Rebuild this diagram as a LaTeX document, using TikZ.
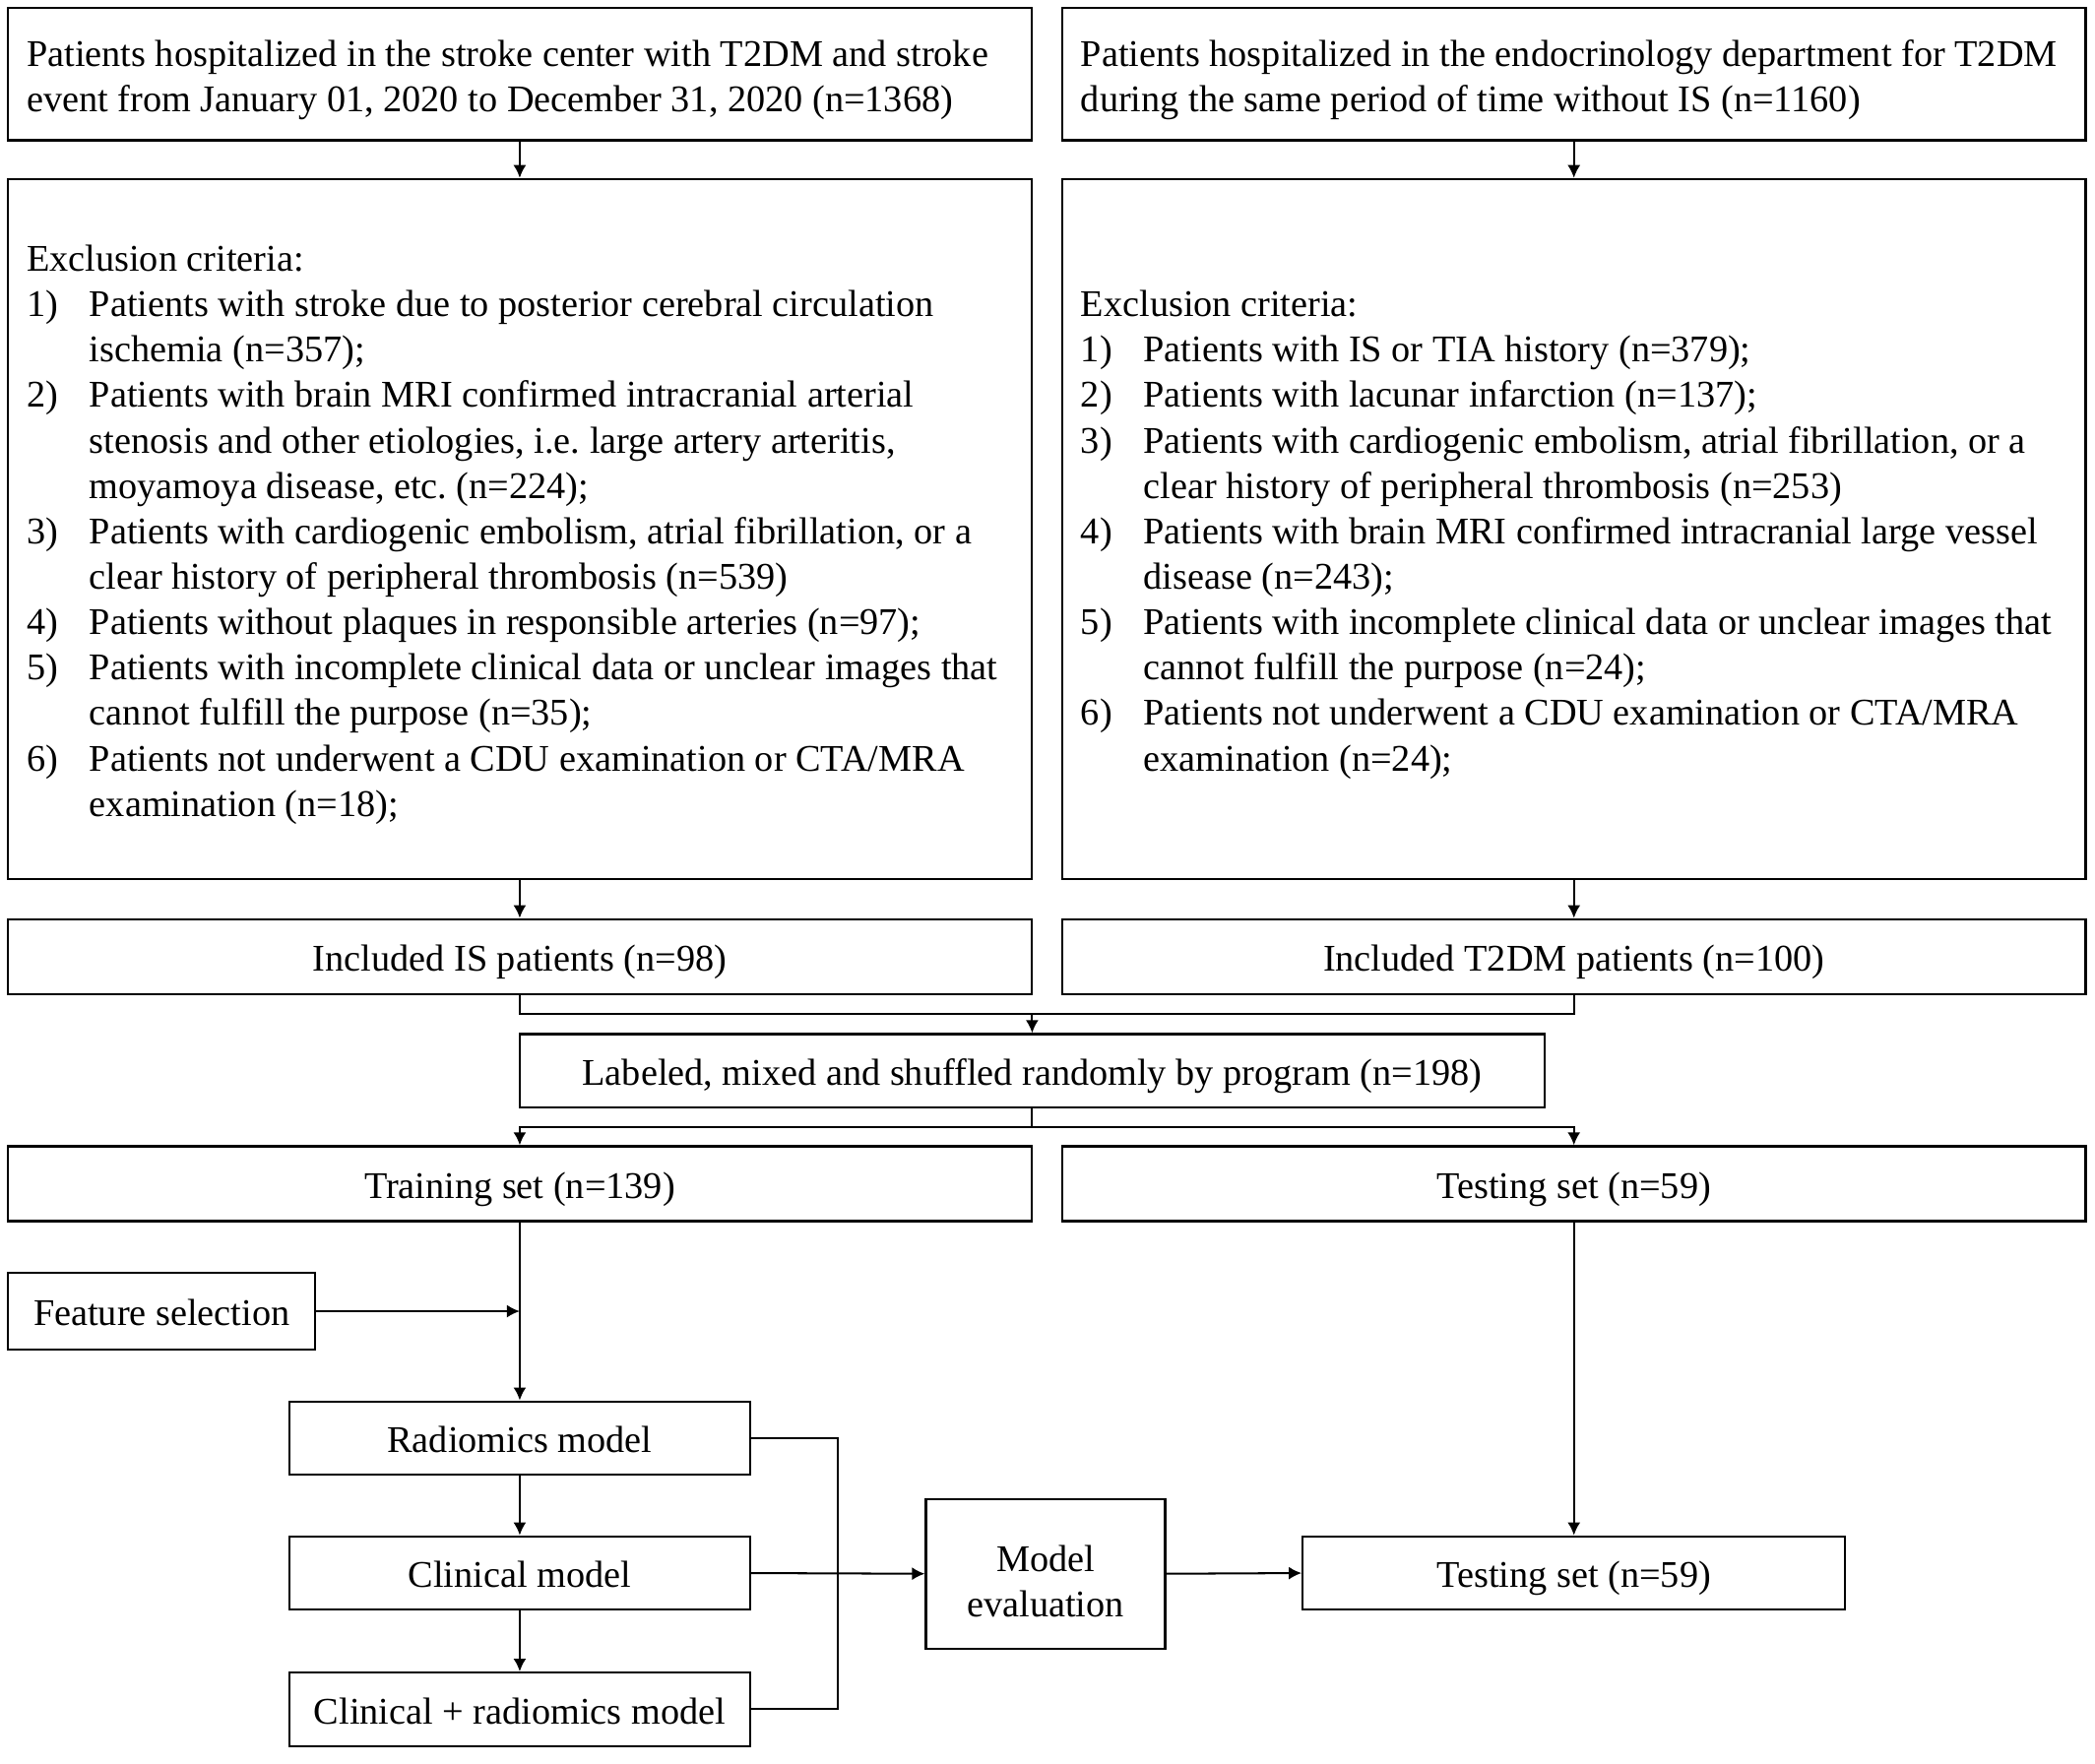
\documentclass[tikz,border=0pt]{standalone}
\usepackage{fontspec}
\setmainfont{Liberation Serif}
\usetikzlibrary{arrows.meta}
\newcommand{\itm}[1]{\par\hangindent=23.5pt\hangafter=1\noindent\makebox[23.5pt][l]{#1}}
\newcommand{\rsp}{\spaceskip=0pt\xspaceskip=0pt\frenchspacing\noindent}
\begin{document}
\begin{tikzpicture}[x=0.5pt,y=-0.5pt,
  every node/.style={font=\fontsize{14.1pt}{17pt}\selectfont},
  box/.style={draw,line width=0.8pt,inner ysep=0pt,inner xsep=7pt,align=center,
              text height=11.5pt,text depth=0.5pt},
  txtbox/.style={box,text width=369pt,align=left},
  wide/.style={box,minimum width=383pt,minimum height=28pt},
  line/.style={line width=0.75pt},
  arr/.style={line,-{Latex[length=4.8pt,width=4.8pt]}}]
\useasboundingbox (0,0) rectangle (1568,1320.4);

\node[txtbox,minimum height=49.5pt,text depth=17.5pt] (top1) at (389,55.5)
  {\rsp Patients hospitalized in the stroke center with T2DM and stroke\newline
   event from January 01, 2020 to December 31, 2020 (n=1368)};
\node[txtbox,minimum height=49.5pt,text depth=17.5pt] (top2) at (1178,55.5)
  {\rsp Patients hospitalized in the endocrinology department for T2DM\newline
   during the same period of time without IS (n=1160)};

\node[txtbox,minimum height=262pt,text depth=204.5pt] (excl1) at (389,396)
  {\rsp Exclusion criteria:
   \itm{1)}Patients with stroke due to posterior cerebral circulation\newline ischemia (n=357);
   \itm{2)}Patients with brain MRI confirmed intracranial arterial\newline stenosis and other etiologies, i.e. large artery arteritis,\newline moyamoya disease, etc. (n=224);
   \itm{3)}Patients with cardiogenic embolism, atrial fibrillation, or a\newline clear history of peripheral thrombosis (n=539)
   \itm{4)}Patients without plaques in responsible arteries (n=97);
   \itm{5)}Patients with incomplete clinical data or unclear images that\newline cannot fulfill the purpose (n=35);
   \itm{6)}Patients not underwent a CDU examination or CTA/MRA\newline examination (n=18);\par};
\node[txtbox,minimum height=262pt,text depth=170.5pt] (excl2) at (1178,396)
  {\rsp Exclusion criteria:
   \itm{1)}Patients with IS or TIA history (n=379);
   \itm{2)}Patients with lacunar infarction (n=137);
   \itm{3)}Patients with cardiogenic embolism, atrial fibrillation, or a\newline clear history of peripheral thrombosis (n=253)
   \itm{4)}Patients with brain MRI confirmed intracranial large vessel\newline disease (n=243);
   \itm{5)}Patients with incomplete clinical data or unclear images that\newline cannot fulfill the purpose (n=24);
   \itm{6)}Patients not underwent a CDU examination or CTA/MRA\newline examination (n=24);\par};

\node[wide] (inc1) at (389,716) {Included IS patients (n=98)};
\node[wide] (inc2) at (1178,716) {Included T2DM patients (n=100)};
\node[box,minimum width=383.5pt,minimum height=27.5pt] (lab) at (772.5,801.5)
  {Labeled, mixed and shuffled randomly by program (n=198)};
\node[wide] (train) at (389,886) {Training set (n=139)};
\node[wide] (test1) at (1178,886) {Testing set (n=59)};

\node[box,minimum width=115pt,minimum height=28.5pt] (feat) at (121,981.5) {Feature selection};
\node[box,minimum width=172.5pt,minimum height=27.5pt] (rad) at (389,1076.5) {Radiomics model};
\node[box,minimum width=172.5pt,minimum height=27.5pt] (clin) at (389,1177.5) {Clinical model};
\node[box,minimum width=172.5pt,minimum height=27.5pt] (comb) at (389,1279.5) {Clinical + radiomics model};
\node[box,minimum width=89.5pt,minimum height=56pt,text height=40pt,text depth=8pt] (eval) at (782.5,1178) {Model\\evaluation};
\node[box,minimum width=203pt,minimum height=27.5pt] (test2) at (1178,1177.5) {Testing set (n=59)};

\coordinate (m1) at (772.5,759);
\coordinate (m2) at (772.5,844);
\coordinate (br) at (627,1178);

\draw[arr] (top1.south) -- (excl1.north);
\draw[arr] (top2.south) -- (excl2.north);
\draw[arr] (excl1.south) -- (inc1.north);
\draw[arr] (excl2.south) -- (inc2.north);
\draw[line] (inc1.south) |- (m1);
\draw[line] (inc2.south) |- (m1);
\draw[arr] (m1) -- (lab.north);
\draw[line] (lab.south) -- (m2);
\draw[arr] (m2) -| (train.north);
\draw[arr] (m2) -| (test1.north);
\draw[arr] (train.south) -- (rad.north);
\draw[arr] (feat.east) -- (feat.east -| train.south);
\draw[arr] (rad.south) -- (clin.north);
\draw[arr] (clin.south) -- (comb.north);
\draw[line] (rad.east) -- (rad.east -| br) -- (comb.east -| br) -- (comb.east);
\draw[arr] (clin.east) -- (eval.west);
\draw[arr] (eval.east) -- (test2.west);
\draw[arr] (test1.south) -- (test2.north);
\end{tikzpicture}
\end{document}
